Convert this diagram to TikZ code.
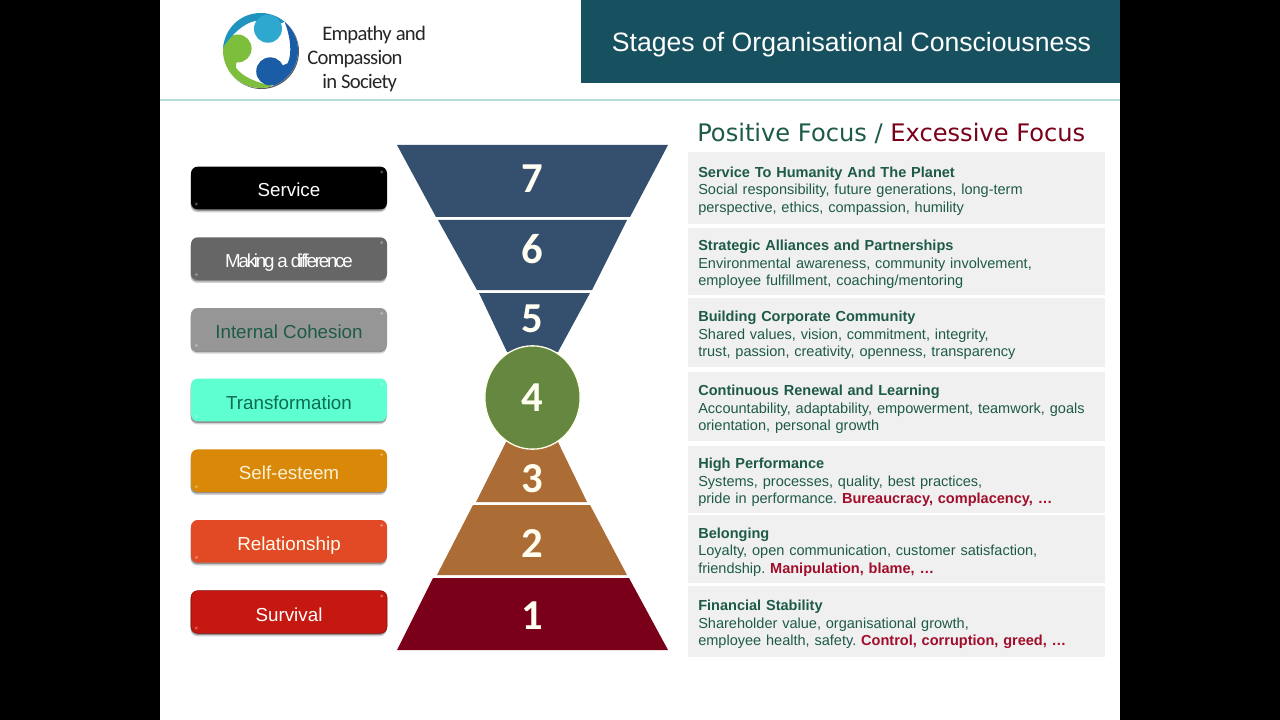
\documentclass[tikz,border=0pt]{standalone}
\usepackage{fontspec}
\setmainfont{Liberation Sans}
\newfontfamily\logofont[LetterSpace=-3.5]{Carlito}
\newfontfamily\digitfont{Carlito}
\newfontfamily\headfont{DejaVu Sans}
\usetikzlibrary{positioning,shadows,shapes.geometric}
\definecolor{headteal}{HTML}{17505E}
\definecolor{rulemint}{HTML}{B5DDD8}
\definecolor{navyband}{HTML}{354F6E}
\definecolor{greenball}{HTML}{66873F}
\definecolor{ochreband}{HTML}{AC6C35}
\definecolor{wineband}{HTML}{7A0019}
\definecolor{deepgreen}{HTML}{1E5A48}
\definecolor{alarmred}{HTML}{A00D2A}
\definecolor{panelgrey}{HTML}{F0F0F1}
\definecolor{logoteal}{HTML}{2094BE}
\definecolor{logosky}{HTML}{2FA8D0}
\definecolor{logogreen}{HTML}{7DBE3C}
\definecolor{logoblue}{HTML}{1A5CA6}
\newcommand{\logoswirl}[5]{%
  \fill[#4] (#2:37.5) arc[start angle=#2,end angle=#3,radius=37.5]
    .. controls (#3-25:33) and (#3-55:32) .. (#3-75:30) -- (#1:23) -- cycle;
  \fill[#5] (#1:23) circle[radius=14];}
\begin{document}
\begin{tikzpicture}[
  x=0.75pt,y=-0.75pt,
  node distance=21pt,
  pill/.style={rounded corners=5pt,align=center,font=\fontsize{14.1}{17}\selectfont,
    minimum width=147pt,minimum height=32pt,inner sep=0pt,outer sep=0pt,
    text height=15.5pt,text depth=2pt,
    drop shadow={shadow xshift=-.3pt,shadow yshift=-2.2pt,opacity=.18,fill=black},
    drop shadow={shadow xshift=-.2pt,shadow yshift=-1.1pt,opacity=.3,fill=black},
    path picture={
      \fill[white,opacity=.3] ([xshift=-4pt,yshift=-4pt]path picture bounding box.north east) circle (1.2pt);
      \fill[white,opacity=.3] ([xshift=4pt,yshift=4pt]path picture bounding box.south west) circle (1.2pt);}},
  panel/.style={fill=panelgrey,align=left,text=deepgreen,anchor=west,
    font=\fontsize{10.9}{13.1}\selectfont\frenchspacing,text width=297.75pt,inner xsep=7.5pt,inner ysep=0pt,
    execute at begin node={\rule{0pt}{12.4pt}}},
  digit/.style={text=white!94!yellow,font=\digitfont\bfseries\fontsize{32}{32}\selectfont,inner sep=0pt},
  logotext/.style={font=\logofont\fontsize{15.5}{20}\selectfont,text=black!85,anchor=west,inner sep=0pt}
]
\useasboundingbox (0,0) rectangle (1280,720);
\fill[white] (0,0) rectangle (1280,720);
\fill[black] (0,0) rectangle (160,720);
\fill[black] (1120,0) rectangle (1280,720);
\fill[headteal] (581,0) rectangle (1120,83);
\draw[rulemint,line width=1pt] (160,100) -- (1120,100);

\node[text=white,font=\fontsize{19.95}{24}\selectfont] (title) at (851.5,45)
  {Stages of Organisational Consciousness};

\begin{scope}[shift={(260.5,50.5)},y=0.75pt]
  \fill[black!65] (1,-1) circle[radius=37.5];
  \fill[white] (0,0) circle[radius=37.5];
  \logoswirl{175}{170}{290}{logogreen}{logogreen}
  \logoswirl{-65}{-70}{50}{logoblue}{logoblue}
  \logoswirl{71}{50}{175}{logoteal}{logosky}
\end{scope}
\node[logotext] (logoa) at (322,35) {Empathy and};
\node[logotext] (logob) at (307,59) {Compassion};
\node[logotext] (logoc) at (322,83) {in Society};

\node[pill,fill=black,text=white] (service) at (289,188) {Service};
\node[pill,fill=black!60,text=white,below=of service] (difference)
  {\addfontfeatures{LetterSpace=-12}Making a difference};
\node[pill,fill=black!41,text=deepgreen,below=of difference] (cohesion) {Internal Cohesion};
\node[pill,fill={rgb,255:red,94;green,255;blue,208},text={rgb,255:red,14;green,107;blue,85},below=of cohesion] (transformation) {Transformation};
\node[pill,fill={rgb,255:red,217;green,136;blue,8},text={rgb,255:red,250;green,240;blue,212},below=of transformation] (esteem) {Self-esteem};
\node[pill,fill={rgb,255:red,226;green,74;blue,38},text=white!92!yellow,below=of esteem] (relationship) {Relationship};
\node[pill,fill={rgb,255:red,196;green,24;blue,16},draw={rgb,255:red,140;green,8;blue,10},text=white,below=of relationship] (survival) {Survival};

\fill[navyband] (397,145) -- (668,145) -- (630,217) -- (436,217) -- cycle;
\fill[navyband] (438,220) -- (627,220) -- (592,290) -- (477,290) -- cycle;
\fill[navyband] (479,293) -- (590,293) -- (558,352) -- (507,352) -- cycle;
\fill[ochreband] (507,440) -- (557,440) -- (587,502) -- (476,502) -- cycle;
\fill[ochreband] (473,505) -- (590,505) -- (627,575) -- (437,575) -- cycle;
\fill[wineband] (433,578) -- (629,578) -- (668,650) -- (397,650) -- cycle;

\node[draw=white!92!yellow,fill=greenball,line width=1pt,ellipse,minimum width=71.5pt,minimum height=77.5pt,inner sep=0pt,
  digit] (ball) at (532.5,397.5) {4};
\node[digit] (seven) at (532,179) {7};
\node[digit] (six) at (532,249) {6};
\node[digit] (five) at (532,319) {5};
\node[digit] (three) at (532,479) {3};
\node[digit] (two) at (532,544) {2};
\node[digit] (one) at (532,616) {1};

\node[anchor=west,inner sep=0pt,font=\headfont\fontsize{18.1}{21}\selectfont,text=deepgreen] (focus) at (697,133)
  {Positive Focus / \textcolor{wineband}{Excessive Focus}};

\node[panel,minimum height=54pt] (p7) at (688,188) {\textbf{Service To Humanity And The Planet}\\Social responsibility, future generations, long-term\\perspective, ethics, compassion, humility};
\node[panel,minimum height=50.25pt] (p6) at (688,261.5) {\textbf{Strategic Alliances and Partnerships}\\Environmental awareness, community involvement,\\employee fulfillment, coaching/mentoring};
\node[panel,minimum height=51.75pt] (p5) at (688,332.5) {\textbf{Building Corporate Community}\\Shared values, vision, commitment, integrity,\\trust, passion, creativity, openness, transparency};
\node[panel,minimum height=51.75pt] (p4) at (688,406.5) {\textbf{Continuous Renewal and Learning}\\Accountability, adaptability, empowerment, teamwork, goals\\orientation, personal growth};
\node[panel,minimum height=50.25pt] (p3) at (688,479.5) {\textbf{High Performance}\\Systems, processes, quality, best practices,\\pride in performance. \textcolor{alarmred}{\textbf{Bureaucracy, complacency, \dots}}};
\node[panel,minimum height=51pt] (p2) at (688,549) {\textbf{Belonging}\\Loyalty, open communication, customer satisfaction,\\friendship. \textcolor{alarmred}{\textbf{Manipulation, blame, \dots}}};
\node[panel,minimum height=53.25pt] (p1) at (688,621.5) {\textbf{Financial Stability}\\Shareholder value, organisational growth,\\employee health, safety. \textcolor{alarmred}{\textbf{Control, corruption, greed, \dots}}};
\end{tikzpicture}
\end{document}
